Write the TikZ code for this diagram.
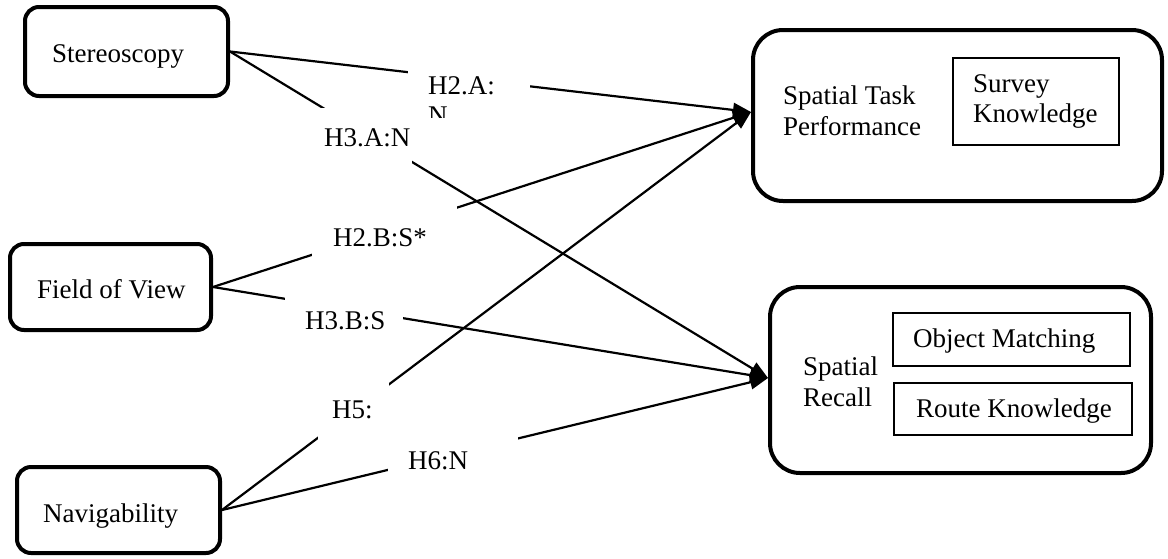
\documentclass[tikz,border=0pt]{standalone}
\usepackage{fontspec}
\setmainfont{Liberation Serif}
\usetikzlibrary{arrows.meta}
\begin{document}
\begin{tikzpicture}[x=1pt,y=-1pt,
  every node/.style={inner sep=0pt},
  factorbox/.style={draw, line width=4pt, rounded corners=14pt},
  outcomebox/.style={draw, line width=4pt, rounded corners=30pt},
  measurebox/.style={draw, line width=1.4pt},
  txt/.style={anchor=base west, font=\fontsize{27}{30}\selectfont},
  maskbox/.style={fill=white},
  link/.style={line width=2.2pt, -{Triangle[length=18pt,width=14pt]}},
]
\useasboundingbox (0,0) rectangle (1168,558);

% independent factors
\node[factorbox, minimum width=203pt, minimum height=89pt] (stereo) at (126.5,51.5) {};
\node[factorbox, minimum width=201pt, minimum height=86pt] (fov) at (110.5,287) {};
\node[factorbox, minimum width=203pt, minimum height=86pt] (nav) at (118.5,510) {};

% outcome measures
\node[outcomebox, minimum width=409pt, minimum height=171pt] (stp) at (957.5,115.5) {};
\node[outcomebox, minimum width=381pt, minimum height=186pt] (sr) at (960.5,380) {};

% sub-measures
\node[measurebox, minimum width=166pt, minimum height=87pt] (survey) at (1036,101.5) {};
\node[measurebox, minimum width=237pt, minimum height=53pt] (objmatch) at (1011.5,339.5) {};
\node[measurebox, minimum width=238pt, minimum height=52pt] (route) at (1013,409) {};

% hypothesis links
\draw[link] (stereo.east) -- ([yshift=3.5pt]stp.west);
\draw[link] (stereo.east) -- ([yshift=2pt]sr.west);
\draw[link] (fov.east) -- ([yshift=3.5pt]stp.west);
\draw[link] (fov.east) -- ([yshift=2pt]sr.west);
\draw[link] (nav.east) -- ([yshift=3.5pt]stp.west);
\draw[link] (nav.east) -- ([yshift=2pt]sr.west);

% white label boxes over the links
\node[maskbox, minimum width=122pt, minimum height=57pt] (h2a) at (469,88.5) {};
\node[maskbox, minimum width=112pt, minimum height=64pt] (h3a) at (356,140) {};
\node[maskbox, minimum width=145pt, minimum height=62pt] (h2b) at (384.5,231) {};
\node[maskbox, minimum width=118pt, minimum height=53pt] (h3b) at (344,318.5) {};
\node[maskbox, minimum width=71pt, minimum height=70pt] (h5) at (353.5,410) {};
\node[maskbox, minimum width=130pt, minimum height=62pt] (h6) at (453,459) {};

% box texts
\node[txt] (stereo-t) at (52,62) {Stereoscopy};
\node[txt] (fov-t) at (37,298) {Field of View};
\node[txt] (nav-t) at (43,522) {Navigability};
\node[txt] (stp-t1) at (783,104.5) {Spatial Task};
\node[txt] (stp-t2) at (783,135) {Performance};
\node[txt] (survey-t1) at (973,92.5) {Survey};
\node[txt] (survey-t2) at (973,122) {Knowledge};
\node[txt] (sr-t1) at (803,375) {Spatial};
\node[txt] (sr-t2) at (803,406) {Recall};
\node[txt] (objmatch-t) at (913,347) {Object Matching};
\node[txt] (route-t) at (916,417) {Route Knowledge};

% hypothesis labels
\node[txt] (h2a-t) at (428,94) {H2.A:};
\begin{scope}
  \clip (h2a.north west) rectangle (h2a.south east);
  \node[txt] (h2a-n) at (428,124) {N};
\end{scope}
\node[txt] (h3a-t) at (324,146) {H3.A:N};
\node[txt] (h2b-t) at (333,246) {H2.B:S*};
\node[txt] (h3b-t) at (305,329) {H3.B:S};
\node[txt] (h5-t) at (332,418) {H5:};
\node[txt] (h6-t) at (408,469) {H6:N};
\end{tikzpicture}
\end{document}
